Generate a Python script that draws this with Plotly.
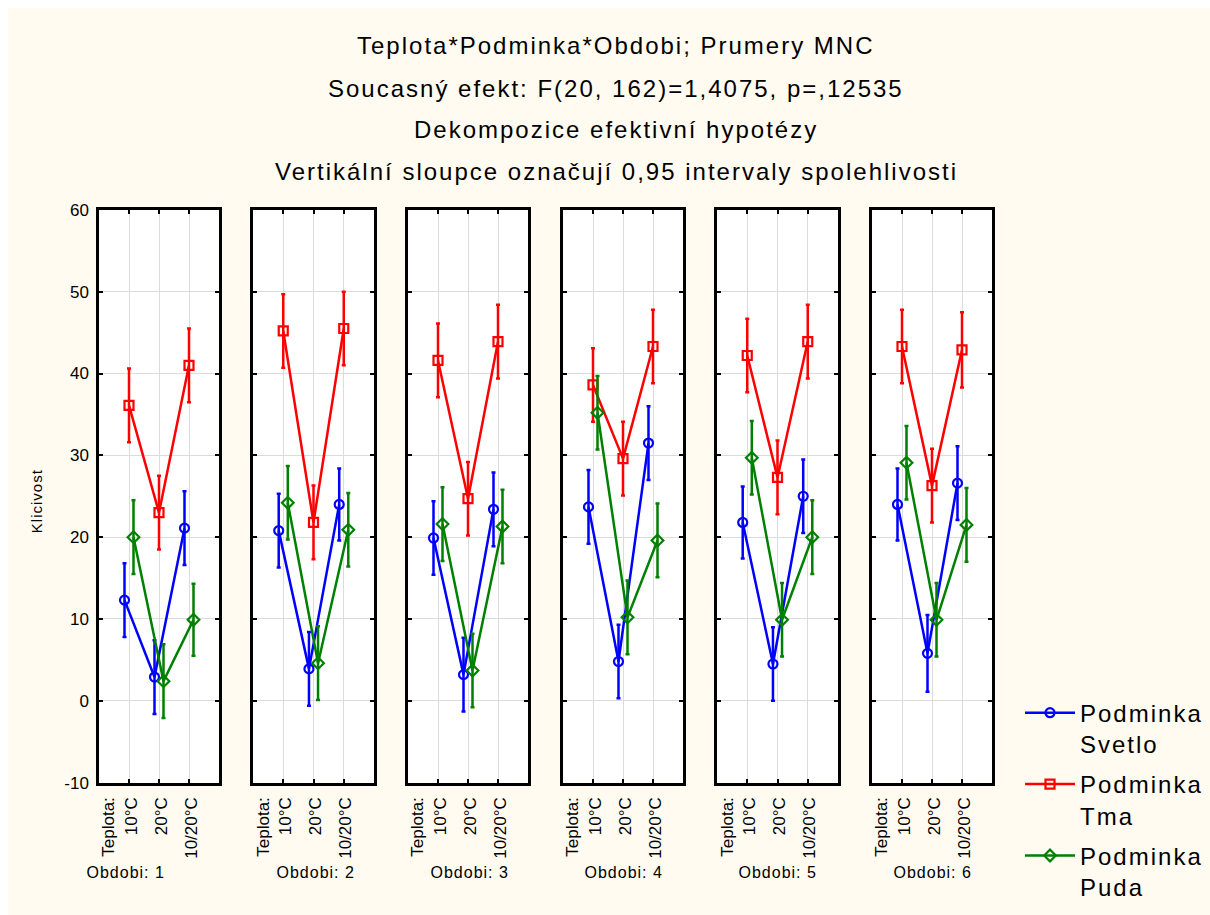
import plotly.graph_objects as go

# ---------------- data ----------------
periods = ["Obdobi: 1", "Obdobi: 2", "Obdobi: 3", "Obdobi: 4", "Obdobi: 5", "Obdobi: 6"]
temps = ["Teplota:<br>10°C", "\u00a0<br>20°C", "\u00a0<br>10/20°C"]
temp_pos = [1, 2, 3]

series_names = ["Podminka<br>Svetlo", "Podminka<br>Tma", "Podminka<br>Puda"]

# means per period (rows) x temperature (cols)
svetlo = [
    [12.3, 2.9, 21.1],
    [20.8, 3.9, 24.0],
    [19.9, 3.2, 23.4],
    [23.7, 4.8, 31.5],
    [21.8, 4.5, 25.0],
    [24.0, 5.8, 26.6],
]
tma = [
    [36.1, 23.0, 41.0],
    [45.2, 21.8, 45.5],
    [41.6, 24.7, 43.9],
    [38.6, 29.6, 43.3],
    [42.2, 27.3, 43.9],
    [43.3, 26.3, 42.9],
]
puda = [
    [20.0, 2.4, 9.9],
    [24.2, 4.6, 20.9],
    [21.6, 3.7, 21.3],
    [35.2, 10.2, 19.6],
    [29.7, 9.9, 20.0],
    [29.1, 9.9, 21.5],
]
# half-widths of 0.95 confidence intervals
svetlo_ci = [
    [4.5, 4.5, 4.5],
    [4.5, 4.5, 4.4],
    [4.5, 4.5, 4.5],
    [4.5, 4.5, 4.5],
    [4.4, 4.5, 4.5],
    [4.4, 4.7, 4.5],
]
tma_ci = [
    [4.5, 4.5, 4.5],
    [4.5, 4.5, 4.5],
    [4.5, 4.5, 4.5],
    [4.5, 4.5, 4.5],
    [4.5, 4.5, 4.5],
    [4.5, 4.5, 4.6],
]
puda_ci = [
    [4.5, 4.5, 4.4],
    [4.5, 4.5, 4.5],
    [4.5, 4.5, 4.5],
    [4.5, 4.5, 4.5],
    [4.5, 4.5, 4.5],
    [4.5, 4.5, 4.5],
]

title_lines = [
    "Teplota*Podminka*Obdobi; Prumery MNC",
    "Soucasný efekt: F(20, 162)=1,4075, p=,12535",
    "Dekompozice efektivní hypotézy",
    "Vertikální sloupce označují 0,95 intervaly spolehlivosti",
]
y_title = "Klicivost"
y_ticks = [-10, 0, 10, 20, 30, 40, 50, 60]
y_tick_labels = ["-10", "0", "10", "20", "30", "40", "50", "60"]

# ---------------- style ----------------
W, H = 1202, 907          # page offset of 8px (top/left) makes it fill 1210x915
FONT = "Liberation Sans, Arial, sans-serif"
BG = "#FFFBF0"
colors = ["#0000FF", "#FF0000", "#008000"]
symbols = ["circle-open", "square-open", "diamond-open"]
offsets = [-0.15, 0.0, 0.15]
panel_px = [(91, 211), (245, 366), (400, 520), (555, 675), (709, 830), (864, 984)]
y_px = (197, 782)
label_x_px = [117, 307, 461, 615, 769, 924]

data_sets = [svetlo, tma, puda]
ci_sets = [svetlo_ci, tma_ci, puda_ci]

fig = go.Figure()

for p in range(len(periods)):
    ax = "" if p == 0 else str(p + 1)
    for s in range(3):
        fig.add_trace(go.Scatter(
            x=[t + offsets[s] for t in temp_pos],
            y=data_sets[s][p],
            error_y=dict(type="data", array=ci_sets[s][p], visible=True,
                         color=colors[s], thickness=2.5, width=2),
            mode="lines+markers",
            line=dict(color=colors[s], width=2.5),
            marker=dict(symbol=symbols[s], size=9, color=colors[s],
                        line=dict(color=colors[s], width=2.2)),
            name=series_names[s],
            legendgroup=series_names[s],
            showlegend=(p == 0),
            xaxis="x" + ax, yaxis="y" + ax,
        ))

layout = dict(
    width=W, height=H,
    margin=dict(l=0, r=0, t=0, b=0),
    paper_bgcolor=BG, plot_bgcolor="white",
    font=dict(family=FONT, color="black", size=16),
    showlegend=True,
    legend=dict(x=1012 / W, y=1 - 688 / H, xanchor="left", yanchor="top",
                bgcolor="rgba(0,0,0,0)", font=dict(size=24, family=FONT),
                valign="top", tracegroupgap=6, itemwidth=50),
)

for p in range(len(periods)):
    ax = "" if p == 0 else str(p + 1)
    x0, x1 = panel_px[p]
    layout["xaxis" + ax] = dict(
        domain=[x0 / W, x1 / W], range=[0, 4],
        tickmode="array", tickvals=temp_pos, ticktext=temps, tickangle=-90,
        ticklabelshift=-9, ticklabelstandoff=5,
        ticks="inside", ticklen=4, tickwidth=2, tickcolor="black",
        showline=True, linewidth=2.5, linecolor="black", mirror="allticks",
        showgrid=True, gridcolor="#DCDCDC", gridwidth=1, zeroline=False,
        tickfont=dict(size=17, family=FONT), anchor="y" + ax, fixedrange=True,
    )
    layout["yaxis" + ax] = dict(
        domain=[1 - y_px[1] / H, 1 - y_px[0] / H], range=[-10, 60],
        tickmode="array", tickvals=y_ticks, ticktext=y_tick_labels,
        showticklabels=(p == 0), ticklabelstandoff=4,
        ticks="inside", ticklen=4, tickwidth=2, tickcolor="black",
        showline=True, linewidth=2.5, linecolor="black", mirror="allticks",
        showgrid=True, gridcolor="#DCDCDC", gridwidth=1, zeroline=False,
        tickfont=dict(size=17, family=FONT), anchor="x" + ax, fixedrange=True,
    )

annotations = []
title_y_px = [29, 73, 115, 158]
for line, yp in zip(title_lines, title_y_px):
    annotations.append(dict(text=line, x=608 / W, y=1 - yp / H, xref="paper", yref="paper",
                            xanchor="center", yanchor="middle", showarrow=False,
                            font=dict(size=24, family=FONT)))
for lab, xp in zip(periods, label_x_px):
    annotations.append(dict(text=lab, x=xp / W, y=1 - 874 / H, xref="paper", yref="paper",
                            xanchor="center", yanchor="middle", showarrow=False,
                            font=dict(size=16, family=FONT)))
annotations.append(dict(text=y_title, x=29 / W, y=1 - 494 / H, xref="paper", yref="paper",
                        xanchor="center", yanchor="middle", showarrow=False, textangle=-90,
                        font=dict(size=15, family=FONT)))
layout["annotations"] = annotations

fig.update_layout(**layout)

# page offset (top/left only, so the page is exactly the window size) and
# the slightly wider letter spacing of the reference text
post = """
document.body.style.margin = '8px 0 0 8px';
document.body.style.overflow = 'hidden';
var gd = document.getElementById('{plot_id}');
gd.querySelectorAll('g.annotation').forEach(function(g){
  var i = +g.getAttribute('data-index');
  g.querySelectorAll('text').forEach(function(t){
    t.style.letterSpacing = (i < 4) ? '2px' : '1px';
  });
});
gd.querySelectorAll('.legend .scrollbox').forEach(function(e){ e.removeAttribute('clip-path'); });
gd.querySelectorAll('.legend').forEach(function(e){ e.removeAttribute('clip-path'); });
gd.querySelectorAll('.legendtext').forEach(function(t){ t.style.letterSpacing = '2px'; });
"""
fig.write_html("out.html", post_script=post)
